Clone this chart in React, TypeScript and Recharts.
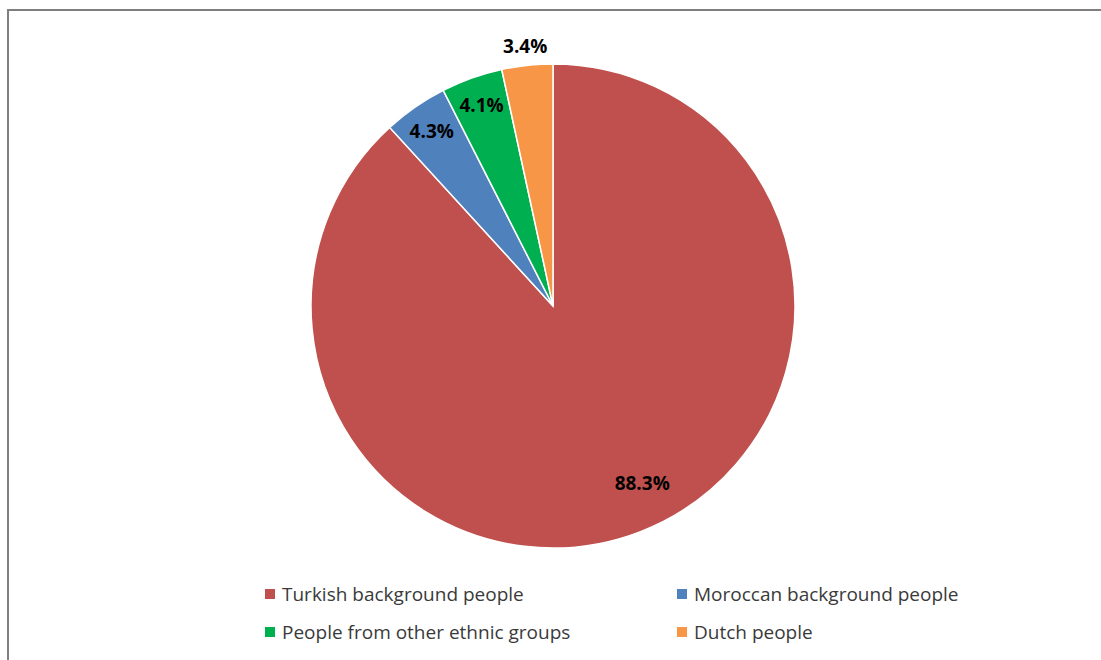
import React from "react";
import { PieChart, Pie, Cell, Legend } from "recharts";

const categories = [
  "Turkish background people",
  "Moroccan background people",
  "People from other ethnic groups",
  "Dutch people",
];
const values = [88.3, 4.3, 4.1, 3.4];
const colors = ["#C0504D", "#4F81BD", "#00B050", "#F79646"];
const labelRadiusFactor = [0.82, 0.88, 0.88, 1.08];
const labelAngleShift = [5.5, 0, 0, 0];
const legendOrder = [0, 1, 2, 3];

const data = categories.map((name, i) => ({ name, value: values[i] }));

const FONT = "'Open Sans', 'Noto Sans', sans-serif";

const RADIAN = Math.PI / 180;

const renderLabel = (props: any) => {
  const { cx, cy, midAngle, outerRadius, index, value } = props;
  const r = outerRadius * labelRadiusFactor[index];
  const a = (midAngle + labelAngleShift[index]) * RADIAN;
  const x = cx + r * Math.cos(a);
  const y = cy - r * Math.sin(a);
  return (
    <text
      x={x}
      y={y}
      textAnchor="middle"
      dominantBaseline="central"
      fill="#000"
      fontFamily={FONT}
      fontWeight={700}
      fontSize={19}
    >
      {value.toFixed(1)}%
    </text>
  );
};

const renderLegend = () => (
  <div
    style={{
      display: "grid",
      gridTemplateColumns: "412px 300px",
      rowGap: 14,
      fontFamily: FONT,
      fontSize: 19,
      color: "#3A3A3A",
      lineHeight: "24px",
    }}
  >
    {legendOrder.map((i) => (
      <div key={i} style={{ display: "flex", alignItems: "center" }}>
        <span
          style={{
            display: "inline-block",
            width: 10,
            height: 10,
            background: colors[i],
            marginRight: 7,
          }}
        />
        <span>{categories[i]}</span>
      </div>
    ))}
  </div>
);

export default function App() {
  return (
    <>
      <div
        style={{
          position: "fixed",
          left: 7,
          top: 9,
          width: 1094,
          height: 651,
          boxSizing: "border-box",
          borderTop: "2px solid #7F7F7F",
          borderLeft: "2px solid #7F7F7F",
          background: "#fff",
        }}
      />
      <div style={{ position: "fixed", left: 0, top: 0 }}>
        <PieChart width={1101} height={660} margin={{ top: 0, right: 0, bottom: 0, left: 0 }}>
          <Pie
            data={data}
            dataKey="value"
            nameKey="name"
            cx={553}
            cy={306}
            outerRadius={242}
            startAngle={90}
            endAngle={-270}
            stroke="#FFFFFF"
            strokeWidth={1.5}
            label={renderLabel}
            labelLine={false}
            isAnimationActive={false}
          >
            {data.map((d, i) => (
              <Cell key={d.name} fill={colors[i]} />
            ))}
          </Pie>
          <Legend
            content={renderLegend}
            layout="horizontal"
            verticalAlign="bottom"
            align="left"
            wrapperStyle={{ position: "absolute", left: 265, top: 582, width: 720, bottom: "auto" }}
          />
        </PieChart>
      </div>
    </>
  );
}
